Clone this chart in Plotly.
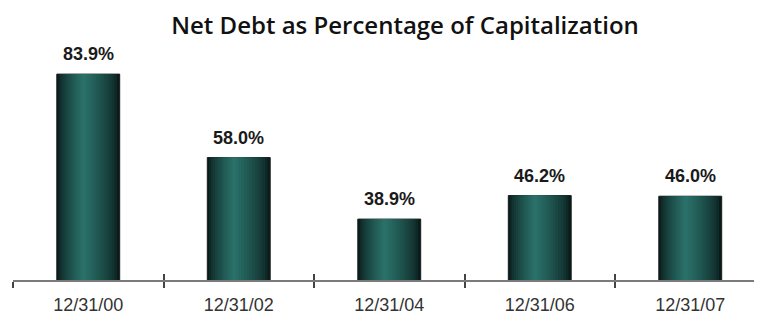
import plotly.graph_objects as go

categories = ["12/31/00", "12/31/02", "12/31/04", "12/31/06", "12/31/07"]
values = [83.9, 58.0, 38.9, 46.2, 46.0]
labels = ["83.9%", "58.0%", "38.9%", "46.2%", "46.0%"]
title_text = "Net Debt as Percentage of Capitalization"

def lerp_color(c1, c2, t):
    a = [int(c1[i:i + 2], 16) for i in (1, 3, 5)]
    b = [int(c2[i:i + 2], 16) for i in (1, 3, 5)]
    return "rgb(%d,%d,%d)" % tuple(round(a[k] + (b[k] - a[k]) * t) for k in range(3))

W, H = 754, 308
BAR_W = 0.418
N_LAYERS = 14
EDGE = "#091c1b"
MID = "#2a7068"
SHIFT = 0.03
PX_PER_CAT = 150.5

fig = go.Figure()
for k in range(N_LAYERS):
    t = k / (N_LAYERS - 1)
    w = BAR_W * (1 - 0.93 * t)
    off = -w / 2 - SHIFT * t
    fig.add_trace(go.Bar(
        x=categories, y=values, width=w, offset=off,
        marker=dict(color=lerp_color(EDGE, MID, t ** 0.7),
                    line=dict(width=1 if k == 0 else 0, color="#1b1b1b")),
        hoverinfo="skip", showlegend=False,
    ))

# invisible trace for the overlay tick axis
fig.add_trace(go.Scatter(x=[], y=[], xaxis="x2", yaxis="y", showlegend=False))

for c, v, lab in zip(categories, values, labels):
    fig.add_annotation(x=c, y=v, text="<b>" + lab + "</b>", showarrow=False, yanchor="bottom",
                       yshift=8, font=dict(family="Liberation Sans", size=18, color="#1a1a1a"),
                       xref="x", yref="y")

plot_w = W - 5
xr = [-0.5, -0.5 + plot_w / PX_PER_CAT]

fig.update_layout(
    width=W, height=H,
    margin=dict(l=5, r=0, t=32, b=36, autoexpand=False),
    paper_bgcolor="white", plot_bgcolor="white",
    barmode="overlay",
    title=dict(text=title_text, x=397 / W, xref="container", xanchor="center",
               y=1 - 18 / H, yref="container", yanchor="middle",
               font=dict(family="Open Sans", size=24, color="#111111", weight=600)),
    xaxis=dict(type="category", range=xr, automargin=False,
               showline=True, linecolor="#7a7a7a", linewidth=2,
               ticks="outside", tickson="boundaries", ticklen=6, tickwidth=2, tickcolor="#444444",
               ticklabelstandoff=7,
               showgrid=False, zeroline=False,
               tickfont=dict(family="Liberation Sans", size=18, color="#333333")),
    xaxis2=dict(overlaying="x", anchor="y", side="bottom", type="linear",
                range=xr, automargin=False,
                tickvals=[-0.5, 0.5, 1.5, 2.5, 3.5, 4.5],
                ticks="inside", ticklen=6, tickwidth=2, tickcolor="#444444",
                showticklabels=False, showgrid=False, zeroline=False, showline=False),
    yaxis=dict(range=[20, 20 + 240 / 3.222], visible=False, showgrid=False, zeroline=False,
               automargin=False),
)

fig.write_html("out.html")
